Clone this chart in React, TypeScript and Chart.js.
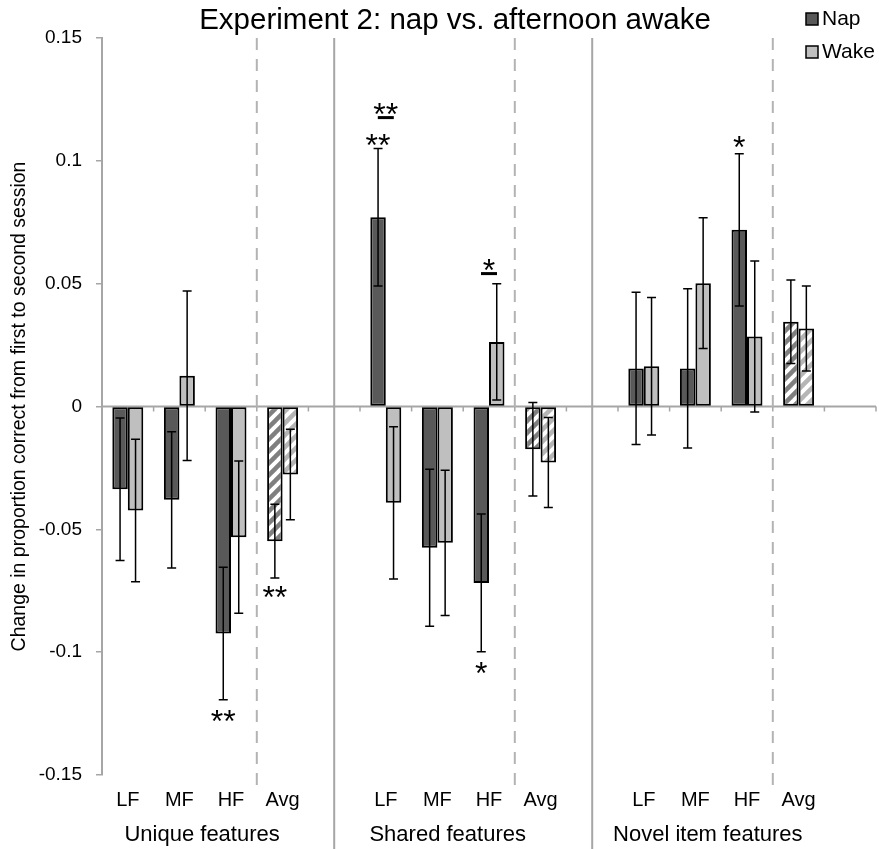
import React, { useEffect, useRef } from 'react';
import { Chart, registerables } from 'chart.js';

Chart.register(...registerables);

// ---------- data ----------
const categories = ['LF', 'MF', 'HF', 'Avg', '', 'LF', 'MF', 'HF', 'Avg', '', 'LF', 'MF', 'HF', 'Avg', ''];
const groupLabels = ['Unique features', 'Shared features', 'Novel item features'];
const groupCenters = [1.44, 6.2, 11.24];

const napValues = [-0.0337, -0.038, -0.0924, -0.0548, null, 0.077, -0.0575, -0.0718, -0.0174, null, 0.0155, 0.0155, 0.0719, 0.0345, null];
const napErrors = [0.029, 0.0277, 0.027, 0.015, null, 0.028, 0.032, 0.028, 0.019, null, 0.031, 0.0324, 0.031, 0.017, null];
const wakeValues = [-0.0423, 0.0125, -0.0532, -0.0277, null, -0.0392, -0.0555, 0.0263, -0.0228, null, 0.0164, 0.0502, 0.0285, 0.0317, null];
const wakeErrors = [0.029, 0.0345, 0.031, 0.0184, null, 0.031, 0.0296, 0.0237, 0.0183, null, 0.028, 0.0266, 0.0307, 0.0173, null];

const avgIndices = [3, 8, 13];
const solidSeparators = [4, 9];
const dashedSeparators = [2.5, 7.5, 12.5];
const yTicks = [-0.15, -0.1, -0.05, 0, 0.05, 0.1, 0.15];

// significance markers: [category index, series index, text, y value]
const singleMarks: [number, number, string, number][] = [
  [2, 0, '**', -0.1249],
  [3, 0, '**', -0.0745],
  [5, 0, '**', 0.1095],
  [7, 0, '*', -0.1054],
  [12, 0, '*', 0.1087],
];
// pair markers (between Nap and Wake): [category index, text, underline y value]
const pairMarks: [number, string, number][] = [
  [5, '**', 0.1176],
  [7, '*', 0.0541],
];

const FONT = '"Liberation Sans", Arial, Helvetica, sans-serif';
const NAP = '#595959';
const WAKE = '#bfbfbf';
const NAP_HATCH = '#7f7f7f';
const WAKE_HATCH = '#b5b5b5';
const AXIS = '#a6a6a6';

function makeHatch(ctx: CanvasRenderingContext2D, color: string) {
  const s = 12;
  const c = document.createElement('canvas');
  c.width = s;
  c.height = s;
  const g = c.getContext('2d')!;
  g.fillStyle = '#ffffff';
  g.fillRect(0, 0, s, s);
  g.strokeStyle = color;
  g.lineWidth = 4.5;
  for (const o of [-s, 0, s]) {
    g.beginPath();
    g.moveTo(o - 2, s + 2);
    g.lineTo(o + s + 2, -2);
    g.stroke();
  }
  return ctx.createPattern(c, 'repeat')!;
}

const decorPlugin = {
  id: 'decor',
  beforeDatasetsDraw(chart: any) {
    const ctx: CanvasRenderingContext2D = chart.ctx;
    const x = chart.scales.x;
    const y = chart.scales.y;
    const area = chart.chartArea;
    ctx.save();
    const y0 = y.getPixelForValue(0);
    ctx.strokeStyle = AXIS;
    ctx.lineWidth = 2;
    ctx.beginPath();
    ctx.moveTo(area.left, y0);
    ctx.lineTo(area.right, y0);
    ctx.stroke();
    ctx.lineWidth = 1.5;
    for (let i = 0; i <= categories.length; i++) {
      const px = x.getPixelForValue(i - 0.5);
      ctx.beginPath();
      ctx.moveTo(px, y0);
      ctx.lineTo(px, y0 + 5);
      ctx.stroke();
    }
    ctx.lineWidth = 2;
    for (const s of solidSeparators) {
      const px = x.getPixelForValue(s);
      ctx.beginPath();
      ctx.moveTo(px, area.top);
      ctx.lineTo(px, chart.height);
      ctx.stroke();
    }
    ctx.strokeStyle = '#b3b3b3';
    ctx.setLineDash([12, 9]);
    for (const s of dashedSeparators) {
      const px = x.getPixelForValue(s);
      ctx.beginPath();
      ctx.moveTo(px, area.top);
      ctx.lineTo(px, area.bottom + 10);
      ctx.stroke();
    }
    ctx.restore();
  },
  afterDatasetsDraw(chart: any) {
    const ctx: CanvasRenderingContext2D = chart.ctx;
    const x = chart.scales.x;
    const y = chart.scales.y;
    const area = chart.chartArea;
    ctx.save();
    const errs = [napErrors, wakeErrors];
    const vals = [napValues, wakeValues];
    ctx.strokeStyle = '#000';
    ctx.lineWidth = 1.5;
    for (let d = 0; d < 2; d++) {
      const meta = chart.getDatasetMeta(d);
      meta.data.forEach((el: any, i: number) => {
        const v = vals[d][i];
        const e = errs[d][i];
        if (v == null || e == null) return;
        const top = y.getPixelForValue(v + e);
        const bot = y.getPixelForValue(v - e);
        ctx.beginPath();
        ctx.moveTo(el.x, top);
        ctx.lineTo(el.x, bot);
        ctx.moveTo(el.x - 4.5, top);
        ctx.lineTo(el.x + 4.5, top);
        ctx.moveTo(el.x - 4.5, bot);
        ctx.lineTo(el.x + 4.5, bot);
        ctx.stroke();
      });
    }
    const starSize = 32;
    ctx.fillStyle = '#000';
    ctx.textAlign = 'center';
    ctx.textBaseline = 'alphabetic';
    ctx.font = `${starSize}px ${FONT}`;
    for (const [cat, ser, txt, val] of singleMarks) {
      const el = chart.getDatasetMeta(ser).data[cat];
      ctx.fillText(txt, el.x, y.getPixelForValue(val) + starSize * 0.58);
    }
    for (const [cat, txt, val] of pairMarks) {
      const a = chart.getDatasetMeta(0).data[cat];
      const b = chart.getDatasetMeta(1).data[cat];
      const cx = (a.x + b.x) / 2;
      const ly = y.getPixelForValue(val);
      ctx.fillRect(cx - 8, ly - 1.5, 16, 3);
      ctx.fillText(txt, cx, ly - 11 + starSize * 0.58);
    }
    ctx.font = `22px ${FONT}`;
    ctx.textBaseline = 'middle';
    groupLabels.forEach((g, i) => {
      ctx.fillText(g, x.getPixelForValue(groupCenters[i]), 835);
    });
    ctx.font = `29.5px ${FONT}`;
    ctx.fillText('Experiment 2: nap vs. afternoon awake', 455, 21);
    ctx.save();
    ctx.translate(20, (area.top + area.bottom) / 2);
    ctx.rotate(-Math.PI / 2);
    ctx.font = `19.5px ${FONT}`;
    ctx.fillText('Change in proportion correct from first to second session', 0, 0);
    ctx.restore();
    const items: [string, string, number][] = [
      ['Nap', NAP, 19],
      ['Wake', WAKE, 52],
    ];
    ctx.font = `21px ${FONT}`;
    ctx.textAlign = 'left';
    for (const [label, color, cy] of items) {
      ctx.fillStyle = color;
      ctx.fillRect(806, cy - 6, 12, 12);
      ctx.strokeStyle = '#000';
      ctx.lineWidth = 1.5;
      ctx.strokeRect(806, cy - 6, 12, 12);
      ctx.fillStyle = '#000';
      ctx.fillText(label, 822, cy);
    }
    ctx.restore();
  },
};

export default function App() {
  const ref = useRef<HTMLCanvasElement>(null);
  useEffect(() => {
    const canvas = ref.current!;
    const ctx = canvas.getContext('2d')!;
    const napHatch = makeHatch(ctx, NAP_HATCH);
    const wakeHatch = makeHatch(ctx, WAKE_HATCH);
    const napBg = categories.map((_, i) => (avgIndices.includes(i) ? napHatch : NAP));
    const wakeBg = categories.map((_, i) => (avgIndices.includes(i) ? wakeHatch : WAKE));
    const chart = new Chart(canvas, {
      type: 'bar',
      data: {
        labels: categories,
        datasets: [
          {
            label: 'Nap',
            data: napValues as any,
            backgroundColor: napBg as any,
            borderColor: '#000',
            borderWidth: 2,
            borderSkipped: false,
            categoryPercentage: 0.6,
            barPercentage: 1,
          },
          {
            label: 'Wake',
            data: wakeValues as any,
            backgroundColor: wakeBg as any,
            borderColor: '#000',
            borderWidth: 2,
            borderSkipped: false,
            categoryPercentage: 0.6,
            barPercentage: 1,
          },
        ],
      },
      options: {
        responsive: false,
        animation: false,
        layout: { padding: { top: 38, right: 3, left: 0, bottom: 0 } },
        plugins: { legend: { display: false }, tooltip: { enabled: false }, title: { display: false } },
        scales: {
          x: {
            grid: { display: false, drawTicks: false },
            border: { display: false },
            ticks: { font: { family: FONT, size: 20 }, color: '#000', padding: 13, maxRotation: 0, autoSkip: false },
            afterFit: (s: any) => {
              s.height = 74;
            },
          },
          y: {
            min: -0.15,
            max: 0.15,
            grid: { drawOnChartArea: false, drawTicks: true, tickLength: 6, color: AXIS, lineWidth: 1.5 },
            border: { display: true, color: AXIS, width: 2 },
            ticks: {
              font: { family: FONT, size: 19 },
              color: '#000',
              padding: 14,
              callback: (v: any) => String(Math.round(Number(v) * 100) / 100),
            },
            afterBuildTicks: (s: any) => {
              s.ticks = yTicks.map((v) => ({ value: v }));
            },
            afterFit: (s: any) => {
              s.width = 102;
            },
          },
        },
      },
      plugins: [decorPlugin],
    });
    return () => chart.destroy();
  }, []);
  return (
    <div style={{ position: 'absolute', left: 0, top: 0, width: 879, height: 849, background: '#fff' }}>
      <canvas ref={ref} width={879} height={849} style={{ display: 'block' }} />
    </div>
  );
}
